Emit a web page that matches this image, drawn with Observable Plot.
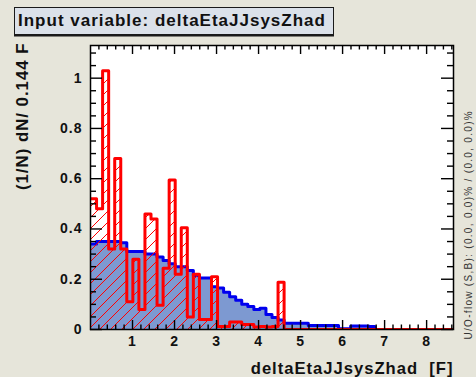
<!DOCTYPE html>
<html>
<head>
<meta charset="utf-8">
<script src="https://cdn.jsdelivr.net/npm/d3@7"></script>
<script src="https://cdn.jsdelivr.net/npm/@observablehq/plot@0.6"></script>
<style>
  html, body { margin: 0; padding: 0; background: #e6e5da; }
  #chart { position: relative; width: 476px; height: 377px; overflow: hidden; }
  #chart svg { position: absolute; left: 0; top: 0; }
  #title {
    position: absolute; left: 14px; top: 7px; height: 26px;
    padding: 0 7px 0 3px;
    background: #dbe1e9; border: 1.5px solid #1a1a1a; box-shadow: 0 1.5px 0 #1a1a1a;
    font: bold 17px "Liberation Sans", Arial, sans-serif; letter-spacing: 1px;
    line-height: 26px; color: #111; white-space: nowrap; z-index: 2;
  }
</style>
</head>
<body>
<div id="chart"><div id="title">Input variable: deltaEtaJJsysZhad</div></div>
<script>
// Normalised distributions of deltaEtaJJsysZhad, 60 bins of width 0.144
const binWidth = 0.144;
const signal = [
  0.34, 0.35, 0.35, 0.35, 0.35, 0.345, 0.31, 0.31, 0.31, 0.30,
  0.30, 0.288, 0.275, 0.262, 0.25, 0.25, 0.235, 0.215, 0.205, 0.205,
  0.17, 0.165, 0.148, 0.13, 0.116, 0.10, 0.092, 0.08, 0.085, 0.06,
  0.048, 0.038, 0.025, 0.025, 0.025, 0.025, 0.016, 0.016, 0.016, 0.016,
  0.016, 0.003, 0.003, 0.014, 0.014, 0.014, 0.012, 0, 0, 0,
  0, 0, 0, 0, 0, 0, 0, 0, 0, 0
];
const background = [
  0.52, 0.48, 1.03, 0.32, 0.68, 0.32, 0.11, 0.28, 0.08, 0.46,
  0.44, 0.096, 0.244, 0.595, 0.22, 0.405, 0.05, 0.22, 0.04, 0.04,
  0.21, 0.012, 0.012, 0.03, 0.03, 0.02, 0.02, 0.01, 0.012, 0.01,
  0.012, 0.188, 0, 0, 0, 0, 0, 0, 0, 0,
  0, 0, 0, 0, 0, 0, 0, 0, 0, 0,
  0, 0, 0, 0, 0, 0, 0, 0, 0, 0
];
const xTickLabels = [1, 2, 3, 4, 5, 6, 7, 8];
const yTickLabels = [0, 0.2, 0.4, 0.6, 0.8, 1];
const xTitle = "deltaEtaJJsysZhad  [F]";
const yTitle = "(1/N) dN/ 0.144 F";
const flowText = "U/O-flow (S,B): (0.0, 0.0)% / (0.0, 0.0)%";

const nBins = signal.length;
const xMax = nBins * binWidth;
const yMax = 1.13;

// step outline: one point per bin edge, closing at the last edge
const outline = (vals) => [
  ...vals.map((v, i) => ({x: i * binWidth, y: v})),
  {x: nBins * binWidth, y: vals[nBins - 1]}
];
const sigLine = outline(signal);
const bkgLine = outline(background);

// tick positions (ticks on all four sides, pointing inward)
const xMinor = d3.range(1, Math.floor(xMax / 0.2) + 1).map(i => +(i * 0.2).toFixed(2)).filter(v => Math.abs(v - Math.round(v)) > 1e-6);
const yMajor = yTickLabels;
const yMinor = d3.range(1, Math.floor(yMax / 0.05) + 1).map(i => +(i * 0.05).toFixed(2)).filter(v => !yMajor.some(m => Math.abs(m - v) < 1e-6));

const mL = 90, mR = 23, mT = 45, mB = 48, W = 476, H = 377;
const fw = W - mL - mR, fh = H - mT - mB;

const fmt = d3.format("~g");

const svg = Plot.plot({
  width: W, height: H,
  marginLeft: mL, marginRight: mR, marginTop: mT, marginBottom: mB,
  style: {
    background: "transparent",
    fontFamily: "'Liberation Sans', Arial, sans-serif",
    fontSize: "14px", fontWeight: "bold", letterSpacing: "1px", color: "#111"
  },
  x: {domain: [0, xMax], ticks: xTickLabels, tickSize: 0, tickPadding: 7, tickFormat: fmt, label: null},
  y: {domain: [0, yMax], ticks: yTickLabels, tickSize: 0, tickPadding: 8, tickFormat: fmt, label: null},
  marks: [
    Plot.frame({fill: "white", stroke: null}),
    // signal: filled histogram with blue outline
    Plot.areaY(sigLine, {x: "x", y: "y", curve: "step-after", fill: "#7d99d1", clip: true}),
    Plot.lineY(sigLine, {x: "x", y: "y", curve: "step-after", stroke: "#0000ee", strokeWidth: 3, clip: true}),
    // background: hatched histogram with red outline
    Plot.areaY(bkgLine, {x: "x", y: "y", curve: "step-after", fill: "url(#bkgHatch)", clip: true}),
    Plot.lineY(bkgLine, {x: "x", y: "y", curve: "step-after", stroke: "#ff0000", strokeWidth: 3, clip: true}),
    // inward ticks: bottom/top
    Plot.ruleX(xTickLabels, {x: d => d, insetTop: fh - 9, stroke: "#000", strokeWidth: 1.4}),
    Plot.ruleX(xMinor, {x: d => d, insetTop: fh - 4.5, stroke: "#000", strokeWidth: 1.4}),
    Plot.ruleX(xTickLabels, {x: d => d, insetBottom: fh - 9, stroke: "#000", strokeWidth: 1.4}),
    Plot.ruleX(xMinor, {x: d => d, insetBottom: fh - 4.5, stroke: "#000", strokeWidth: 1.4}),
    // inward ticks: left/right
    Plot.ruleY(yMajor, {y: d => d, insetRight: fw - 12, stroke: "#000", strokeWidth: 1.4}),
    Plot.ruleY(yMinor, {y: d => d, insetRight: fw - 6, stroke: "#000", strokeWidth: 1.4}),
    Plot.ruleY(yMajor, {y: d => d, insetLeft: fw - 12, stroke: "#000", strokeWidth: 1.4}),
    Plot.ruleY(yMinor, {y: d => d, insetLeft: fw - 6, stroke: "#000", strokeWidth: 1.4}),
    Plot.frame({stroke: "#000", strokeWidth: 1.5}),
    // axis titles
    Plot.text([xTitle], {frameAnchor: "bottom-right", textAnchor: "end", lineAnchor: "middle", dy: 39, fontSize: 16.6, fontWeight: "bold", fill: "#111"}),
    Plot.text([yTitle], {frameAnchor: "top-left", rotate: -90, textAnchor: "end", lineAnchor: "middle", dx: -68, dy: -3, fontSize: 16.8, fontWeight: "bold", fill: "#111"}),
    Plot.text([flowText], {frameAnchor: "bottom-right", rotate: -90, textAnchor: "start", lineAnchor: "middle", dx: 15, dy: 10, fontSize: 10, fontWeight: "normal", fill: "#333"})
  ]
});

// hatch pattern used by the background histogram
const defs = d3.select(svg).insert("defs", ":first-child");
const pat = defs.append("pattern")
  .attr("id", "bkgHatch").attr("patternUnits", "userSpaceOnUse")
  .attr("width", 11).attr("height", 11);
pat.append("path")
  .attr("d", "M0,11L11,0M-2.75,2.75L2.75,-2.75M8.25,13.75L13.75,8.25")
  .attr("stroke", "#ff0000").attr("stroke-width", 1).attr("fill", "none");

d3.select(svg).selectAll("text")
  .filter(function() { return this.textContent === flowText; })
  .style("letter-spacing", "1.3px");

document.getElementById("chart").prepend(svg);
</script>
</body>
</html>
